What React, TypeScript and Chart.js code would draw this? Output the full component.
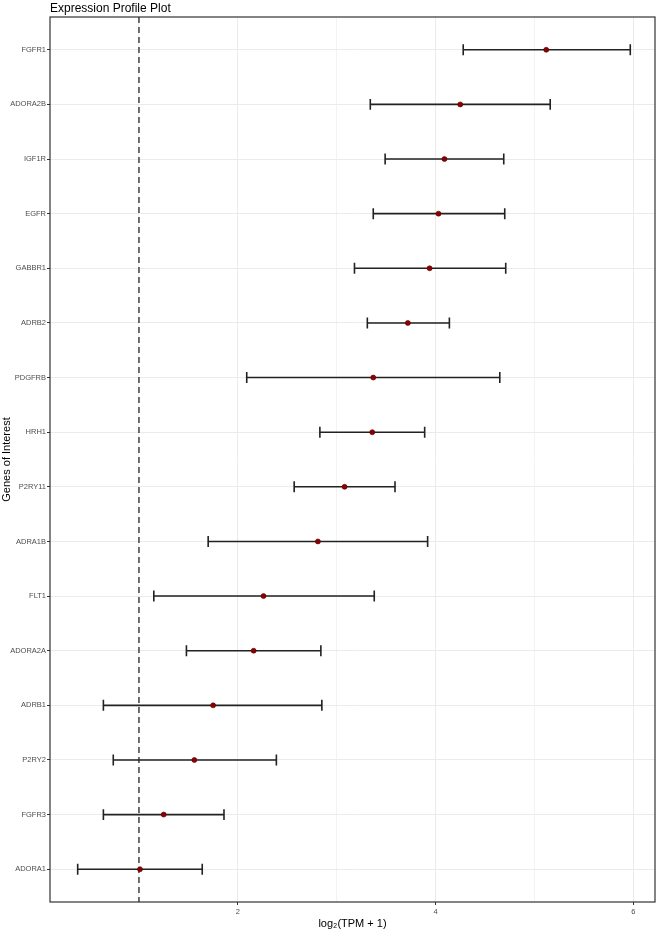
import React, { useEffect, useRef } from 'react';
import { Chart, registerables } from 'chart.js';

Chart.register(...registerables);

const genes = ['FGFR1', 'ADORA2B', 'IGF1R', 'EGFR', 'GABBR1', 'ADRB2', 'PDGFRB', 'HRH1', 'P2RY11', 'ADRA1B', 'FLT1', 'ADORA2A', 'ADRB1', 'P2RY2', 'FGFR3', 'ADORA1'];
const means = [5.12, 4.25, 4.09, 4.03, 3.94, 3.72, 3.37, 3.36, 3.08, 2.81, 2.26, 2.16, 1.75, 1.56, 1.25, 1.01];
const lows = [4.28, 3.34, 3.49, 3.37, 3.18, 3.31, 2.09, 2.83, 2.57, 1.70, 1.15, 1.48, 0.64, 0.74, 0.64, 0.38];
const highs = [5.97, 5.16, 4.69, 4.70, 4.71, 4.14, 4.65, 3.89, 3.59, 3.92, 3.38, 2.84, 2.85, 2.39, 1.86, 1.64];
const xMajorTicks = [2, 4, 6];
const xGridValues = [1, 2, 3, 4, 5, 6];
const refLineValue = 1;
const chartTitle = 'Expression Profile Plot';
const xTitle = 'log\u2082(TPM + 1)';
const yTitle = 'Genes of Interest';

const FONT = "'Liberation Sans', Arial, Helvetica, sans-serif";

const forestPlugin = {
  id: 'forest',
  beforeDatasetsDraw(chart: any) {
    const { ctx, chartArea, scales } = chart;
    const xs = scales.x;
    const ys = scales.y;
    ctx.save();
    ctx.beginPath();
    ctx.rect(chartArea.left, chartArea.top, chartArea.right - chartArea.left, chartArea.bottom - chartArea.top);
    ctx.clip();
    // reference dashed line
    const rx = xs.getPixelForValue(refLineValue);
    ctx.strokeStyle = '#333333';
    ctx.lineWidth = 1.4;
    ctx.setLineDash([6, 4]);
    ctx.beginPath();
    ctx.moveTo(rx, chartArea.top);
    ctx.lineTo(rx, chartArea.bottom);
    ctx.stroke();
    ctx.setLineDash([]);
    // error bars
    const capHalf = Math.abs(ys.getPixelForValue(0.1) - ys.getPixelForValue(0));
    ctx.strokeStyle = '#222222';
    ctx.lineWidth = 1.6;
    for (let i = 0; i < genes.length; i++) {
      const y = ys.getPixelForValue(i);
      const x1 = xs.getPixelForValue(lows[i]);
      const x2 = xs.getPixelForValue(highs[i]);
      ctx.beginPath();
      ctx.moveTo(x1, y);
      ctx.lineTo(x2, y);
      ctx.moveTo(x1, y - capHalf);
      ctx.lineTo(x1, y + capHalf);
      ctx.moveTo(x2, y - capHalf);
      ctx.lineTo(x2, y + capHalf);
      ctx.stroke();
    }
    ctx.restore();
  },
  afterDraw(chart: any) {
    const { ctx, chartArea } = chart;
    ctx.save();
    ctx.strokeStyle = '#333333';
    ctx.lineWidth = 1.2;
    ctx.strokeRect(chartArea.left, chartArea.top, chartArea.right - chartArea.left, chartArea.bottom - chartArea.top);
    ctx.fillStyle = '#000000';
    ctx.font = `12px ${FONT}`;
    ctx.textAlign = 'left';
    ctx.textBaseline = 'alphabetic';
    ctx.fillText(chartTitle, chartArea.left, 11.5);
    ctx.restore();
  },
};

export default function App() {
  const ref = useRef<HTMLCanvasElement>(null);
  useEffect(() => {
    if (!ref.current) return;
    const chart = new Chart(ref.current, {
      type: 'scatter',
      data: {
        datasets: [
          {
            data: means.map((m, i) => ({ x: m, y: i })),
            pointRadius: 2.5,
            pointHoverRadius: 2.5,
            backgroundColor: '#8B0000',
            borderColor: '#5c0000',
            borderWidth: 0.6,
          },
        ],
      },
      options: {
        responsive: false,
        animation: false,
        events: [],
        layout: { padding: { top: 17, right: 4, left: 0, bottom: 0 } },
        plugins: {
          legend: { display: false },
          title: { display: false },
          tooltip: { enabled: false },
        },
        scales: {
          x: {
            type: 'linear',
            min: 0.1,
            max: 6.22,
            afterBuildTicks: (scale: any) => {
              scale.ticks = xGridValues.map((v) => ({ value: v }));
            },
            afterFit: (scale: any) => {
              scale.height = 31;
            },
            ticks: {
              autoSkip: false,
              maxRotation: 0,
              padding: 2,
              color: '#4d4d4d',
              font: { family: FONT, size: 7.5 },
              callback: (v: any) => (xMajorTicks.includes(Number(v)) ? String(v) : ''),
            },
            grid: {
              color: '#ebebeb',
              lineWidth: (c: any) => (c.tick && xMajorTicks.includes(c.tick.value) ? 1 : 0.6),
              tickColor: (c: any) => (c.tick && xMajorTicks.includes(c.tick.value) ? '#333333' : 'rgba(0,0,0,0)'),
              tickWidth: 1,
              tickLength: 3,
            },
            border: { display: false },
            title: {
              display: true,
              text: xTitle,
              color: '#000000',
              font: { family: FONT, size: 11 },
              padding: { top: 0, bottom: 2.5 },
            },
          },
          y: {
            type: 'linear',
            reverse: true,
            min: -0.6,
            max: genes.length - 1 + 0.6,
            afterBuildTicks: (scale: any) => {
              scale.ticks = genes.map((_, i) => ({ value: i }));
            },
            afterFit: (scale: any) => {
              scale.width = 50;
            },
            ticks: {
              autoSkip: false,
              padding: 1,
              color: '#4d4d4d',
              font: { family: FONT, size: 7.5 },
              callback: (v: any) => genes[Number(v)] ?? '',
            },
            grid: {
              color: '#ebebeb',
              lineWidth: 1,
              tickColor: '#333333',
              tickWidth: 1,
              tickLength: 3,
            },
            border: { display: false },
            title: {
              display: true,
              text: yTitle,
              color: '#000000',
              font: { family: FONT, size: 11 },
              padding: { top: 0.5, bottom: 0 },
            },
          },
        },
      },
      plugins: [forestPlugin],
    } as any);
    return () => chart.destroy();
  }, []);
  return (
    <div style={{ position: 'absolute', left: 0, top: 0, width: 659, height: 933, background: '#ffffff' }}>
      <canvas ref={ref} width={659} height={933} style={{ display: 'block' }} />
    </div>
  );
}
